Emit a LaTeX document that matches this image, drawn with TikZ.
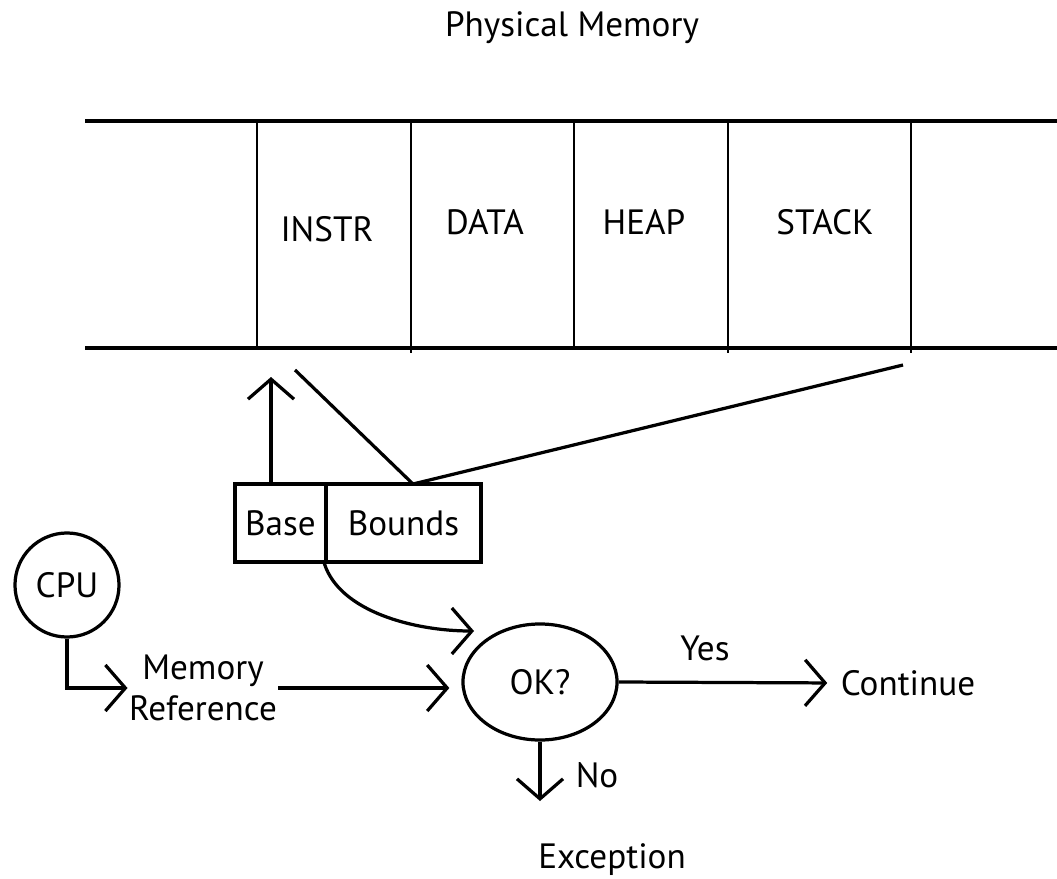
\documentclass[tikz,border=0pt]{standalone}
\usepackage{fontspec}
\setmainfont{PT Sans}
\usetikzlibrary{arrows.meta, shapes.geometric}

\begin{document}
\begin{tikzpicture}[x=0.025cm, y=-0.025cm, line width=2.3pt, font=\fontsize{25}{29}\selectfont,
    arr/.style={-{Straight Barb[length=0.5cm, width=1.15cm, line width=2.3pt]}},
    reg/.style={draw, minimum height=1.95cm, inner sep=0pt},
    lbl/.style={inner sep=0pt}]
      \useasboundingbox (0,0) rectangle (1057,879);

      % physical memory strip
      \node[lbl] (title) at (572,28) {Physical Memory};
      \draw[line width=2.9pt] (85,121) -- (1057,121);
      \draw[line width=2.9pt] (85,348) -- (1057,348);
      \foreach \x/\yb in {257/348, 411/353, 574/348, 728/353, 911/353}
        \draw[line width=1.9pt] (\x,121) -- (\x,\yb);

      \node[lbl]  (instr) at (327,229)   {INSTR};
      \node[lbl]  (data)  at (485,222)   {DATA};
      \node[lbl]  (heap)  at (644,222)   {HEAP};
      \node[lbl]  (stack) at (825,222)   {STACK};

      % base and bounds registers
      \node[reg, minimum width=2.275cm] (base) at (280.5,523) {Base};
      \node[reg, minimum width=3.875cm] (bnd)  at (403.5,523) {Bounds};

      \coordinate (bfoot) at (271,484);
      \coordinate (btip)  at (271,377);
      \coordinate (btop)  at (413,484);
      \coordinate (blo)   at (295,370);
      \coordinate (bhi)   at (903,365);
      \coordinate (chk)   at (474,631);
      \coordinate (notip) at (540,801);

      \draw[arr] (bfoot) -- (btip);
      \draw (blo) -- (btop) -- (bhi);

      % check
      \node[draw, circle, minimum size=2.6cm, inner sep=0pt]            (cpu)  at (67,585)  {CPU};
      \node[lbl, align=center]                                          (mref) at (203,688) {Memory\\Reference};
      \node[draw, ellipse, minimum width=3.85cm, minimum height=2.9cm]  (ok)   at (540,682) {OK?};
      \node[lbl]                                                        (cont) at (908,683) {Continue};
      \node[lbl]                                                        (yes)  at (705,648) {Yes};
      \node[lbl]                                                        (no)   at (597,775) {No};
      \node[lbl]                                                        (exc)  at (612,860) {Exception};

      \draw[arr] (bnd.south west) .. controls (340,612) and (415,631) .. (chk);
      \draw[arr] (cpu.south) |- (mref.west);
      \draw[arr, shorten >=0.3cm] (mref.east) -- (mref.east -| ok.west);
      \draw[arr, shorten >=0.3cm] (ok.east) -- (cont.west);
      \draw[arr] (ok.south) -- (notip);
\end{tikzpicture}
\end{document}
